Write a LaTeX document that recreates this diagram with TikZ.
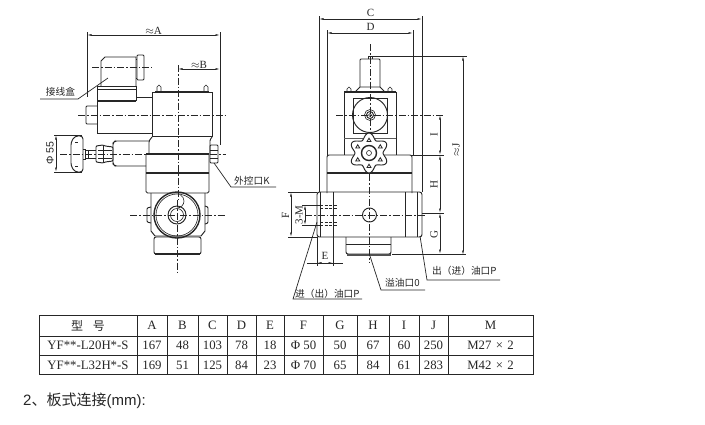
\documentclass[tikz,border=0pt]{standalone}
\usepackage{fontspec}
\usetikzlibrary{arrows.meta}
\setmainfont{Liberation Serif}
\newfontfamily\cjkfont{Noto Sans CJK SC}
\newfontfamily\sansfont{Liberation Sans}
\definecolor{ink}{HTML}{262626}
\tikzset{
  part/.style={draw=ink,line width=0.95pt},
  thick part/.style={draw=ink,line width=1.4pt},
  thin part/.style={draw=ink,line width=0.6pt},
  centre/.style={draw=ink,line width=0.55pt,dash pattern=on 7pt off 2pt on 1.5pt off 2pt},
  ext/.style={draw=ink,line width=0.6pt},
  dimline/.style={draw=ink,line width=0.6pt,{Latex[length=4.5pt,width=1.9pt]}-{Latex[length=4.5pt,width=1.9pt]}},
  leader/.style={draw=ink,line width=0.7pt},
  hidden/.style={draw=ink,line width=0.55pt,dash pattern=on 3pt off 1.5pt},
  dimtext/.style={text=ink,font=\fontsize{11}{12}\selectfont,inner sep=0.5pt},
  cjklabel/.style={text=ink,font=\cjkfont\fontsize{9.7}{11}\selectfont,inner sep=0pt},
  cell/.style={text=ink,font=\fontsize{12.8}{14}\selectfont,inner sep=0pt},
  tableline/.style={draw=ink,line width=0.9pt}
}
\begin{document}
\begin{tikzpicture}[x=1pt,y=-1pt]
\useasboundingbox[fill=white] (0,0) rectangle (705,424);

% ---------- left view ----------
\draw[part] (101,86) -- (101,61) -- (105,57) -- (136,57) -- (136,86);
\draw[part,rounded corners=1pt] (137,55) rectangle (144,80);
\draw[part] (136,59) -- (137,59) (136,78) -- (137,78);
\draw[part] (97,101) -- (97,86) -- (136,86) -- (136,101);
\draw[thin part] (97,89) -- (136,89);
\draw[thick part] (97,101) -- (136,101);
\draw[part] (97,101) -- (97,133) -- (152,133);
\draw[part] (136,97) -- (152,97);
\draw[part,rounded corners=1pt] (97,106) -- (86,106) -- (86,124) -- (97,124);
% solenoid block
\draw[part] (152,137) -- (152,92) -- (212,92) -- (212,137);
\draw[thick part] (155,91.5) -- (209,91.5);
\foreach \bx in {159,206}{
  \draw[thin part] (\bx-2,92) -- (\bx-2,87) -- (\bx,85) -- (\bx+2,87) -- (\bx+2,92);
}
% neck and main block
\draw[part] (152,136) -- (212,136);
\draw[part,rounded corners=1pt] (149,154) -- (149,141) -- (152,137) (212,137) -- (210,140) -- (210,154);
\draw[thick part] (146,154) -- (209,154);
\draw[part,rounded corners=1.5pt] (146,154) -- (146,193) -- (209,193) -- (209,154);
\draw[thick part] (146,173) -- (209,173);
% lower block
\draw[part] (151,193) -- (151,231) -- (155,236) -- (201,236) -- (205,231) -- (205,193);
\draw[part,rounded corners=1pt] (151,207) -- (147,208) -- (147,222) -- (151,223);
\draw[part,rounded corners=1pt] (205,206) -- (208,207) -- (208,223) -- (205,224);
\draw[thick part] (177,215) circle[radius=23pt];
\draw[thin part] (177,215) circle[radius=21pt];
\draw[part] (177,215) circle[radius=9pt];
\draw[thin part] (177,215) circle[radius=6.5pt];
\draw[thin part] (177,208) arc[start angle=-90,end angle=60,radius=7pt];
% bottom block
\draw[part,rounded corners=2pt] (154,237) rectangle (201,254);
\draw[thick part] (155,254) -- (200,254);
% handwheel, stem, nuts, body
\draw[part,rounded corners=3pt] (75,136) -- (83,136) -- (83,172) -- (75,172) -- (71,166) -- (71,142) -- cycle;
\draw[thin part] (75,142) -- (78,142) (75,166) -- (78,166);
\draw[part] (83,149) -- (85,149) -- (85,159) -- (83,159);
\draw[part] (85,150) -- (96,150) (85,158) -- (96,158);
\draw[part] (88,150) -- (88,158);
\draw[part,rounded corners=1pt] (96,146) -- (103,145) -- (105,146) -- (113,147) -- (113,161) -- (105,162) -- (103,163) -- (96,162) -- cycle;
\draw[thin part] (103,145) -- (103,163);
\draw[thin part] (98,150) -- (112,150) (98,158) -- (112,158);
\draw[part,rounded corners=1.5pt] (149,141) -- (115,141) -- (113,143) -- (113,164) -- (115,166) -- (146,166);
% right nut
\draw[part,rounded corners=1pt] (210,145) -- (218,145) -- (218,163) -- (210,163) -- cycle;
\draw[thin part] (210,150) -- (218,150) (210,158) -- (218,158);
% centre lines
\draw[centre] (92,67) -- (152,67);
\draw[centre] (78,115) -- (225,115);
\draw[centre] (60,154) -- (226,154);
\draw[centre] (130,215) -- (226,215);
\draw[centre] (178,65) -- (178,200) (177,200) -- (177,272);
% dims
\coordinate (Aa) at (87,35); \coordinate (Ab) at (220,35); \coordinate (Bb) at (220,69); \coordinate (Ba) at (178,69);
\draw[ext] (87,32) -- (87,97);
\draw[ext] (220,32) -- (220,145);
\draw[dimline] (Aa) -- node[dimtext,above=0pt] {$\approx$A} (Ab);
\draw[dimline] (Ba) -- node[dimtext,above=0pt] {$\approx$B} (Bb);
\coordinate (Pa) at (56,135); \coordinate (Pb) at (56,172);
\draw[ext] (54,135) -- (82,135) (54,172) -- (82,172);
\draw[dimline] (Pa) -- (Pb);
\node[dimtext,rotate=90,font=\sansfont\fontsize{10.5}{11}\selectfont] (phi) at (50,153) {Φ 55};
% labels
\node[cjklabel] (box) at (60.5,92) {接线盒};
\coordinate (boxa) at (40,99); \coordinate (boxb) at (78,99); \coordinate (boxc) at (108,78);
\draw[leader] (boxa) -- (boxb) -- (boxc);
\node[cjklabel,anchor=west] (ctl) at (234,180.5) {外控口K};
\coordinate (ctla) at (214,163); \coordinate (ctlb) at (231,187); \coordinate (ctlc) at (276,187);
\draw[leader] (ctla) -- (ctlb) -- (ctlc);

% ---------- right view ----------
\draw[part] (368,59) -- (368,56) -- (372,56) -- (372,59);
\draw[part,rounded corners=1pt] (360,87) -- (360,59) -- (380,59) -- (380,87);
\draw[part] (360,87) -- (380,87) (356,91) -- (360,87) (380,87) -- (384,91);
\draw[thick part] (344,92) -- (396,92);
\foreach \bx in {349,390}{
  \draw[thin part] (\bx-2,92) -- (\bx-2,89) -- (\bx,87) -- (\bx+2,89) -- (\bx+2,92);
}
\draw[part] (344,92) -- (344,143) (396,92) -- (396,143);
\draw[part] (353,98) rectangle (387,133);
\draw[part] (370,115) circle[radius=17.5pt];
\draw[thin part] (370,115) circle[radius=5.5pt];
\draw[part] (370,115) circle[radius=3.5pt];
\draw[thin part] (370,115) circle[radius=1.5pt];
\draw[thick part,draw=ink!75] (344,138.5) -- (396,138.5);
% main block
\draw[part,rounded corners=2pt] (327,193) -- (327,155) -- (412,155) -- (412,193);
\draw[thick part] (327,173) -- (412,173);
\draw[thin part] (344,143) -- (344,155) (396,143) -- (396,155);
% rosette
\draw[part,fill=white,smooth,samples=72,domain=0:355] plot ({369+(17+3*cos(6*\x))*cos(\x+30)},{153+(17+3*cos(6*\x))*sin(\x+30)}) -- cycle;
\draw[thick part] (369,153) circle[radius=7.5pt];
\draw[thin part] (369,153) circle[radius=2.5pt];
\foreach \ang in {30,90,150,210,270,330}{
  \begin{scope}[shift={({369+13*cos(\ang)},{153+13*sin(\ang)})}]
    \draw[part,line width=0.8pt,fill=white] (-2,1.5) -- (2,1.5) -- (0,-1.8) -- cycle;
  \end{scope}
}
% cylinder
\draw[part,rounded corners=2.5pt] (317,192) rectangle (422,237);
\draw[part] (320.5,192) -- (320.5,237) (333,192) -- (333,237) (405,192) -- (405,237) (417.5,192) -- (417.5,237);
\draw[part] (369.5,215) circle[radius=7pt];
\draw[hidden] (320,205) -- (337,205) (320,208) -- (337,208) (320,222) -- (337,222) (320,225) -- (337,225);
% bottom
\draw[part,rounded corners=2pt] (346,237) -- (346,254) -- (391,254) -- (391,237);
\draw[thick part,draw=ink!80] (347,255) -- (391,255);
\draw[thin part] (346,244) -- (391,244);
% centre lines
\draw[centre] (336,115) -- (444,115);
\draw[centre] (305,215) -- (425,215);
\draw[centre] (370,44) -- (370,132) (369.5,174) -- (369.5,262);
% C, D
\coordinate (Ca) at (319,19); \coordinate (Cb) at (422,19);
\coordinate (Da) at (327,33); \coordinate (Db) at (413,33);
\draw[ext] (319,16) -- (319,192) (422,16) -- (422,192);
\draw[ext] (327,30) -- (327,155) (413,30) -- (413,155);
\draw[dimline] (Ca) -- (Cb);
\draw[dimline] (Da) -- (Db);
\node[dimtext] (labC) at (370.5,13) {C};
\node[dimtext] (labD) at (370.5,27) {D};
% J, I, H, G
\coordinate (Ja) at (463,56); \coordinate (Jb) at (463,255);
\coordinate (Ia) at (440,115); \coordinate (Ib) at (440,155);
\coordinate (Hb) at (440,213); \coordinate (Gb) at (440,254);
\draw[ext] (372,56) -- (467,56);
\draw[ext] (392,254) -- (466,254);
\draw[ext] (412,155) -- (444,155);
\draw[ext] (422,213) -- (444,213);
\draw[dimline] (Ja) -- (Jb);
\draw[dimline] (Ia) -- (Ib);
\draw[dimline] (Ib) -- (Hb);
\draw[dimline] (Hb) -- (Gb);
\node[dimtext,rotate=90] (labI) at (434,135) {I};
\node[dimtext,rotate=90] (labH) at (434,185) {H};
\node[dimtext,rotate=90] (labG) at (434,235) {G};
\node[dimtext,rotate=90] (labJ) at (456,150) {$\approx$J};
% F, 3-M, E
\coordinate (Fa) at (291,192); \coordinate (Fb) at (291,237);
\coordinate (Ma) at (305,205); \coordinate (Mb) at (305,225);
\coordinate (Ea) at (317,263); \coordinate (Eb) at (333,263);
\draw[ext] (288,192) -- (317,192) (288,237) -- (317,237);
\draw[ext] (302,205) -- (320,205) (302,225) -- (320,225);
\draw[ext] (317,237) -- (317,266) (333,237) -- (333,266);
\draw[ext] (307,263) -- (343,263);
\draw[dimline] (Fa) -- (Fb);
\draw[dimline] (Ma) -- (Mb);
\draw[dimline] (Ea) -- (Eb);
\node[dimtext,rotate=90] (labF) at (285.5,215) {F};
\node[dimtext,rotate=90] (labM) at (299,215) {3-M};
\node[dimtext] (labE) at (325,255.5) {E};
% leaders
\node[cjklabel,anchor=west] (portin) at (295,294) {进（出）油口P};
\coordinate (pia) at (362,299); \coordinate (pib) at (293,299); \coordinate (pic) at (317,222);
\draw[leader] (pia) -- (pib) -- (pic);
\node[cjklabel,anchor=west] (portout) at (432,271) {出（进）油口P};
\coordinate (poa) at (500,280); \coordinate (pob) at (427,280); \coordinate (poc) at (420,236);
\draw[leader] (poa) -- (pob) -- (poc);
\node[cjklabel,anchor=west] (portover) at (385,283) {溢油口0};
\coordinate (ova) at (425,290); \coordinate (ovb) at (381,290); \coordinate (ovc) at (370,256);
\draw[leader] (ova) -- (ovb) -- (ovc);

% ---------- table ----------
\draw[tableline] (39,315) rectangle (533,374);
\foreach \ty in {336,355.5}{\draw[tableline] (39,\ty) -- (533,\ty);}
\foreach \tx in {137,167,198,227,256,284,323,357,389,419,448}{\draw[tableline] (\tx,315) -- (\tx,374);}
\node[cell,font=\cjkfont\fontsize{12}{14}\selectfont] (h0) at (88,325.5) {型\hspace{0.8em}号};
\foreach \n/\cx/\a/\b/\c in {
  1/152/A/167/169, 2/182.5/B/48/51, 3/212.5/C/103/125, 4/241.5/D/78/84, 5/270/E/18/23,
  6/303.5/F/Φ 50/Φ 70, 7/340/G/50/65, 8/373/H/67/84, 9/404/I/60/61, 10/433.5/J/250/283,
  11/490.5/M/{M27\,\,×\,\,2}/{M42\,\,×\,\,2}}{
  \node[cell] (h\n) at (\cx,325.5) {\a};
  \node[cell] (r\n) at (\cx,345.5) {\b};
  \node[cell] (s\n) at (\cx,365) {\c};
}
\node[cell] (m1) at (88,345.5) {YF**-L20H*-S};
\node[cell] (m2) at (88,365) {YF**-L32H*-S};
% caption
\node[anchor=west,inner sep=0pt,text=ink] (cap) at (23,400.5) {\fontsize{15}{17}\selectfont\sansfont 2\cjkfont、板式连接\sansfont(mm):};
\end{tikzpicture}
\end{document}
